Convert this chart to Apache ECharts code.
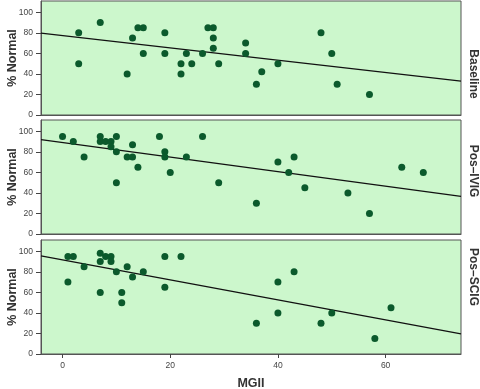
<!DOCTYPE html>
<html><head><meta charset="utf-8">
<script src="https://cdn.jsdelivr.net/npm/echarts@6/dist/echarts.min.js"></script>
<style>html,body{margin:0;padding:0;background:#fff}#c{width:480px;height:389px}</style>
</head><body><div id="c"></div>
<script>
var panelNames = ['Baseline', 'Pos\u2013IVIG', 'Pos\u2013SCIG'];
var xTicks = [0, 20, 40, 60];
var yTicks = [0, 20, 40, 60, 80, 100];
var baseline = [[3,80],[3,50],[7,90],[12,40],[13,75],[14,85],[15,85],[15,60],[19,80],[19,60],[22,50],[22,40],[23,60],[24,50],[26,60],[27,85],[28,85],[28,75],[28,65],[29,50],[34,70],[34,60],[36,30],[37,42],[40,50],[48,80],[50,60],[51,30],[57,20]];
var posIVIG = [[0,95],[2,90],[4,75],[7,95],[7,90],[8,90],[9,90],[9,85],[10,95],[10,80],[10,50],[12,75],[13,75],[13,87],[14,65],[18,95],[19,80],[19,75],[20,60],[23,75],[26,95],[29,50],[36,30],[40,70],[42,60],[43,75],[45,45],[53,40],[57,20],[63,65],[67,60]];
var posSCIG = [[1,95],[2,95],[1,70],[4,85],[7,98],[7,90],[7,60],[8,95],[9,95],[9,90],[10,80],[11,60],[11,50],[12,85],[13,75],[15,80],[19,95],[19,65],[22,95],[36,30],[40,70],[40,40],[43,80],[48,30],[50,40],[58,15],[61,45]];
var fitIntercept = [77.3, 89.0, 91.6];
var fitSlope = [-0.599, -0.708, -0.974];
var xRange = [-4, 74];

var datasets = [baseline, posIVIG, posSCIG];
var tops = [1, 120, 240];
var labelY = [74, 171, 277];
var H = 114;
var F = 'Liberation Sans, Arial, sans-serif';
var grids = [], xAxes = [], yAxes = [], series = [], graphics = [];
for (var i = 0; i < 3; i++) {
  var last = i === 2;
  grids.push({left: 41, width: 420, top: tops[i], height: H, show: true, containLabel: false, outerBoundsMode: 'none',
    backgroundColor: '#ccf7cc', borderColor: '#555', borderWidth: 1});
  xAxes.push({type: 'value', gridIndex: i, min: xRange[0], max: xRange[1],
    splitLine: {show: false},
    axisLine: {show: true, onZero: false, lineStyle: {color: '#555'}},
    axisTick: {show: last, length: 4, customValues: xTicks, lineStyle: {color: '#444'}},
    axisLabel: {show: last, customValues: xTicks, color: '#444', fontSize: 8.5, margin: 7, fontFamily: F},
    name: last ? 'MGII' : '', nameLocation: 'middle', nameGap: 23, nameMoveOverlap: false,
    nameTextStyle: {fontWeight: 'bold', fontSize: 12.5, color: '#333', fontFamily: F}});
  yAxes.push({type: 'value', gridIndex: i, min: 0, max: 111,
    splitLine: {show: false},
    axisLine: {show: true, onZero: false, lineStyle: {color: '#555'}},
    axisTick: {show: true, length: 5, customValues: yTicks, lineStyle: {color: '#444'}},
    axisLabel: {customValues: yTicks, color: '#444', fontSize: 8.5, margin: 8, fontFamily: F},
    name: '% Normal', nameLocation: 'middle', nameGap: 22, nameMoveOverlap: false,
    nameTextStyle: {fontWeight: 'bold', fontSize: 12.5, color: '#333', fontFamily: F}});
  series.push({type: 'scatter', xAxisIndex: i, yAxisIndex: i, data: datasets[i],
    symbolSize: 7, itemStyle: {color: '#0b5a2c', opacity: 1}, z: 3});
  series.push({type: 'line', xAxisIndex: i, yAxisIndex: i, showSymbol: false, symbol: 'none',
    data: [[xRange[0], fitIntercept[i] + fitSlope[i] * xRange[0]], [xRange[1], fitIntercept[i] + fitSlope[i] * xRange[1]]],
    lineStyle: {color: '#111', width: 1.2}, z: 2, silent: true});
  graphics.push({type: 'text', x: 473, y: labelY[i], rotation: -Math.PI / 2,
    style: {text: panelNames[i], fontWeight: 'bold', fontSize: 12, fill: '#333', fontFamily: F,
      align: 'center', verticalAlign: 'middle'}});
}
var chart = echarts.init(document.getElementById('c'));
chart.setOption({animation: false, grid: grids, xAxis: xAxes, yAxis: yAxes, series: series, graphic: graphics});
</script></body></html>
